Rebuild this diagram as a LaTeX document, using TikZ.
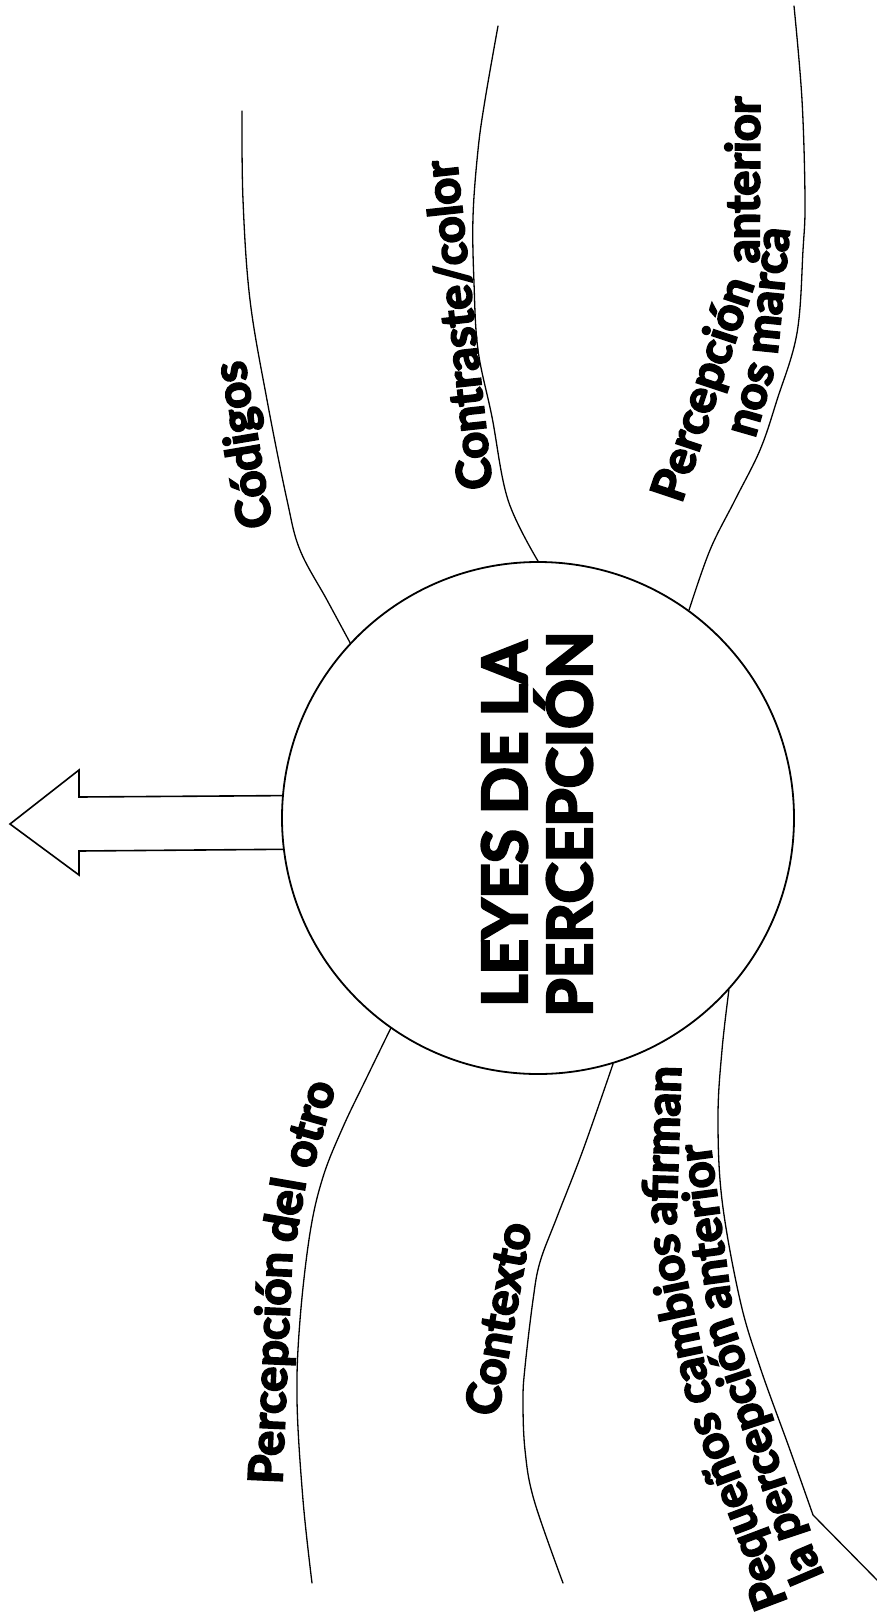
\documentclass[tikz,border=0pt]{standalone}
\usepackage{fontspec}
\setmainfont{Lato}[BoldFeatures={FakeBold=4}]
\begin{document}
\begin{tikzpicture}[x=1pt,y=-1pt,
  branch/.style={line width=1.3pt, line join=round, line cap=round},
  hub/.style={circle, draw, line width=1.8pt, minimum size=512pt, inner sep=0pt},
  bigarrow/.style={line width=1.6pt, line join=miter},
  word/.style={font=\bfseries\fontsize{47}{47}\selectfont, inner sep=0pt, anchor=base, rotate=#1}
]
\useasboundingbox (0,0) rectangle (877,1621);
\fill[white] (0,0) rectangle (877,1621);

% central circle and its title
\node[hub] (core) at (538,818) {};
\node[font=\bfseries\fontsize{62}{65}\selectfont, align=center, rotate=90, inner sep=0pt] (title) at (537,824) {LEYES DE LA\\PERCEPCIÓN};

% block arrow leaving the circle to the left
\draw[bigarrow] (core.175.3) -- (79,797) -- (79,770) -- (10,824) -- (79,875) -- (79,851) -- (core.187.4);

% free ends of the branches
\coordinate (codE) at (242,111);
\coordinate (conE) at (498,26);
\coordinate (antE) at (794,6);
\coordinate (otrE) at (312,1583);
\coordinate (ctxE) at (563,1583);
\coordinate (peqE) at (880,1583);

% upper branches
\draw[branch] plot[smooth, tension=0.6] coordinates {(core.137.4) (327,600) (300,550) (287,500) (267,400) (250,300) (243,200) (codE)};
\draw[branch] plot[smooth, tension=0.6] coordinates {(core.90.9) (508,500) (492,417) (478,350) (474,283) (473,217) (478,150) (485,100) (conE)};
\draw[branch] plot[smooth, tension=0.6] coordinates {(core.54.7) (710,550) (735,500) (760,450) (777,400) (797,333) (803,250) (805,200) (802,100) (antE)};

% lower branches
\draw[branch] plot[smooth, tension=0.6] coordinates {(core.235.6) (367,1077) (343,1127) (323,1177) (310,1233) (300,1320) (297,1400) (303,1500) (otrE)};
\draw[branch] plot[smooth, tension=0.6] coordinates {(core.287) (583,1150) (557,1217) (540,1262) (533,1300) (525,1367) (523,1400) (525,1450) (534,1500) (ctxE)};
\draw[branch] plot[smooth, tension=0.6] coordinates {(core.318) (722,1050) (718,1117) (722,1200) (740,1300) (760,1367) (790,1450) (813,1515)} -- (peqE);

% labels, word by word, leaning along their branches and reading upwards
\node[word=99.6] (codigos) at (258.5,442.5) {Códigos};
\node[word=96.2] (contraste) at (474.5,323.5) {Contraste/color};

\node[word=71.6] (ant1a) at (718,394) {Percepción};
\node[word=89.7] (ant1b) at (759.5,180) {anterior};
\node[word=74] (ant2a) at (765,403) {nos};
\node[word=84.2] (ant2b) at (783.5,292) {marca};

\node[word=87.5] (otro1) at (287,1368.5) {Percepción};
\node[word=80.1] (otro2) at (300.5,1212.5) {del};
\node[word=74.2] (otro3) at (324,1128) {otro};

\node[word=80] (contexto) at (514.5,1321.5) {Contexto};

\node[word=110.7] (peq1a) at (751.5,1506) {Pequeños};
\node[word=101.8] (peq1b) at (694.5,1316.5) {cambios};
\node[word=88.2] (peq1c) at (678.5,1146) {afirman};
\node[word=113] (peq2a) at (817,1558.5) {la};
\node[word=108.3] (peq2b) at (767,1425.5) {percepción};
\node[word=97.6] (peq2c) at (721,1225) {anterior};
\end{tikzpicture}
\end{document}
